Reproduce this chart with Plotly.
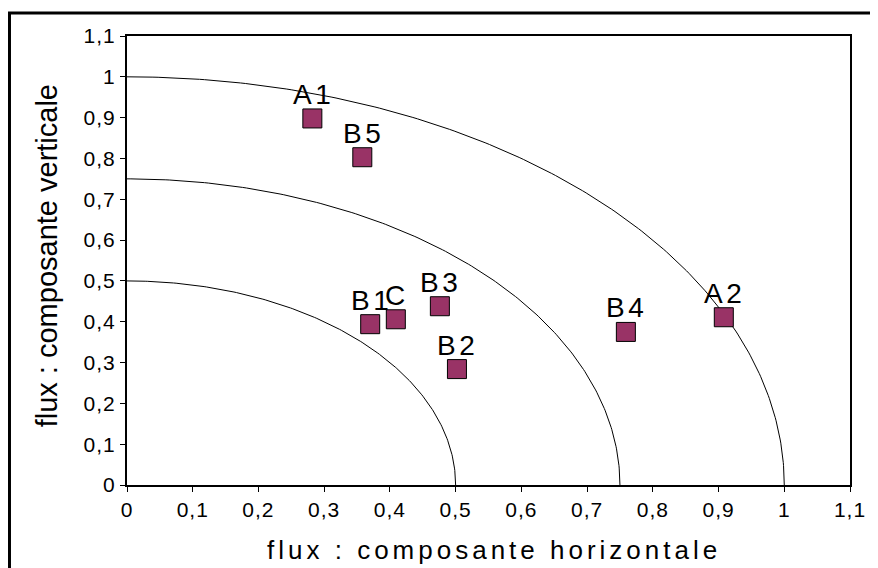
import numpy as np
import plotly.graph_objects as go

# data
labels = ["A1", "B5", "B1", "C", "B3", "B2", "B4", "A2"]
x_vals = [0.282, 0.358, 0.370, 0.409, 0.476, 0.502, 0.759, 0.908]
y_vals = [0.898, 0.803, 0.394, 0.406, 0.438, 0.284, 0.375, 0.411]
radii = [0.5, 0.75, 1.0]
tick_vals = [0, 0.1, 0.2, 0.3, 0.4, 0.5, 0.6, 0.7, 0.8, 0.9, 1.0, 1.1]
tick_text = ["0", "0,1", "0,2", "0,3", "0,4", "0,5", "0,6", "0,7", "0,8", "0,9", "1", "1,1"]

FONT = "Liberation Sans, Arial, sans-serif"

# reference plot area in page pixels (page has an 8px body margin)
L, R, T, B = 127, 853, 36, 485
W, H = 870, 560


def px(xp):
    return (xp - L) / (R - L)


def py(yp):
    return (B - yp) / (B - T)


def spaced(s, sp):
    return f'<span style="letter-spacing:{sp}px">{s}</span>'


fig = go.Figure()

theta = np.linspace(0, np.pi / 2, 200)
for r in radii:
    fig.add_trace(go.Scatter(x=r * np.cos(theta), y=r * np.sin(theta), mode="lines",
                             line=dict(color="black", width=1), hoverinfo="skip",
                             showlegend=False))

fig.add_trace(go.Scatter(
    x=x_vals, y=y_vals, mode="markers",
    marker=dict(symbol="square", size=19, color="#993366",
                line=dict(color="black", width=1)),
    showlegend=False, cliponaxis=False))

annotations = [
    dict(text=spaced(l, 3.5), x=xv, y=yv, xref="x", yref="y", showarrow=False,
         xanchor="center", yanchor="middle", yshift=24, xshift=1,
         font=dict(family=FONT, size=28, color="black"))
    for l, xv, yv in zip(labels, x_vals, y_vals)
]

annotations += [
    dict(text=spaced("flux : composante horizontale", 4), xref="paper", yref="paper",
         x=px(496), y=py(550), xanchor="center", yanchor="middle", showarrow=False,
         font=dict(family=FONT, size=26, color="black")),
    dict(text="flux : composante verticale", xref="paper", yref="paper",
         x=px(47), y=py(256), xanchor="center", yanchor="middle", textangle=-90,
         showarrow=False, font=dict(family=FONT, size=29, color="black")),
]

axis_common = dict(range=[0, 1.1], tickvals=tick_vals,
                   ticktext=[spaced(t, 1) for t in tick_text],
                   showgrid=False, zeroline=False, showline=True, mirror=True,
                   linecolor="black", linewidth=2, ticks="outside", ticklen=5,
                   tickcolor="black", tickwidth=1,
                   tickfont=dict(family=FONT, size=21, color="black"))

fig.update_xaxes(**axis_common)
fig.update_yaxes(**axis_common)

fig.update_layout(
    width=W, height=H,
    margin=dict(l=L - 8, r=W - (R - 8), t=T - 8, b=H - (B - 8)),
    plot_bgcolor="white", paper_bgcolor="white",
    font=dict(family=FONT, color="black"),
    annotations=annotations,
    shapes=[dict(type="rect", xref="paper", yref="paper",
                 x0=px(9), x1=px(900), y0=py(600), y1=py(13),
                 line=dict(color="black", width=3), fillcolor="rgba(0,0,0,0)", layer="below")],
)

fig.write_html("out.html")
